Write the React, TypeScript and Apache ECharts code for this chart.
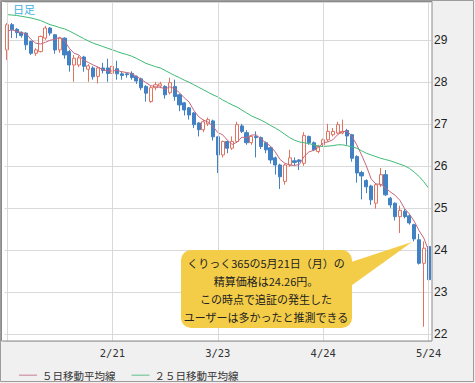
import React, { useEffect, useRef } from "react";
import * as echarts from "echarts";

// Trading days (category axis)
const dates = [
  "1/20",
  "1/23", "1/24", "1/25", "1/26", "1/27",
  "1/30", "1/31", "2/1", "2/2", "2/3",
  "2/6", "2/7", "2/8", "2/9", "2/10",
  "2/13", "2/14", "2/15", "2/16", "2/17",
  "2/20", "2/21", "2/22", "2/23", "2/24",
  "2/27", "2/28", "2/29", "3/1", "3/2",
  "3/5", "3/6", "3/7", "3/8", "3/9",
  "3/12", "3/13", "3/14", "3/15", "3/16",
  "3/19", "3/21", "3/22", "3/23",
  "3/26", "3/27", "3/28", "3/29", "3/30",
  "4/2", "4/3", "4/4", "4/5", "4/6",
  "4/9", "4/10", "4/11", "4/12", "4/13",
  "4/16", "4/17", "4/18", "4/19", "4/20",
  "4/23", "4/24", "4/25", "4/26", "4/27",
  "4/30", "5/1", "5/2", "5/3", "5/4",
  "5/7", "5/8", "5/9", "5/10", "5/11",
  "5/14", "5/15", "5/16", "5/17", "5/18",
  "5/21", "5/22", "5/23", "5/24",
];

const opens = [
  28.76, 29.36, 29.25, 29.18, 29.16, 28.96, 28.68, 28.72, 29.04, 29.28,
  29.12, 28.76, 29.04, 28.72, 28.4, 28.4, 28.59, 28.3, 28.33, 28.13,
  28.33, 28.33, 28.2, 28.31, 28.19, 28.19, 28.2, 28.13, 28.07, 27.89,
  27.53, 27.86, 27.9, 27.89, 27.74, 27.89, 27.69, 27.5, 27.38, 27.26,
  27.02, 26.86, 27.0, 27.07, 26.69, 26.26, 26.58, 26.42, 26.58, 26.95,
  26.79, 26.55, 26.7, 26.67, 26.55, 26.43, 26.19, 26.02, 25.63, 26.02,
  26.12, 26.14, 26.06, 26.7, 26.55, 26.34, 26.5, 26.62, 26.74, 26.78,
  26.78, 26.84, 26.74, 26.22, 25.84, 25.65, 25.52, 25.11, 25.55, 25.79,
  25.23, 25.11, 24.79, 24.92, 24.81, 24.6, 24.24, 23.68, 24.08,
];

const closes = [
  29.36, 29.24, 29.17, 29.1, 28.88, 28.68, 28.76, 29.08, 29.28, 29.16,
  28.76, 29.04, 28.64, 28.4, 28.56, 28.57, 28.37, 28.38, 28.12, 28.33,
  28.27, 28.2, 28.37, 28.19, 28.15, 28.17, 28.1, 28.02, 27.86, 27.73,
  27.86, 27.93, 27.95, 27.69, 27.98, 27.65, 27.45, 27.33, 27.21, 26.98,
  26.86, 27.05, 27.1, 26.69, 26.26, 26.58, 26.42, 26.58, 26.98, 26.82,
  26.55, 26.7, 26.67, 26.46, 26.38, 26.14, 26.02, 25.74, 26.02, 26.19,
  26.08, 26.1, 26.72, 26.55, 26.38, 26.46, 26.62, 26.82, 26.82, 26.98,
  26.82, 26.71, 26.18, 25.83, 25.76, 25.5, 25.19, 25.55, 25.79, 25.31,
  25.07, 24.79, 24.94, 24.79, 24.64, 24.26, 23.68, 24.04, 23.29,
];

const lows = [
  28.52, 29.04, 29.04, 29.05, 28.76, 28.64, 28.62, 28.7, 29.0, 29.1,
  28.67, 28.69, 28.55, 28.24, 28.0, 28.35, 28.24, 28.0, 28.05, 27.96,
  28.2, 28.0, 28.1, 28.05, 28.05, 28.1, 28.05, 27.95, 27.8, 27.53,
  27.5, 27.8, 27.85, 27.6, 27.7, 27.55, 27.3, 27.2, 27.1, 26.9,
  26.7, 26.8, 26.95, 26.6, 25.83, 26.2, 26.3, 26.38, 26.55, 26.78,
  26.5, 26.5, 26.2, 26.4, 26.3, 26.05, 25.79, 25.45, 25.55, 25.98,
  26.0, 25.9, 26.0, 26.5, 26.35, 26.3, 26.45, 26.58, 26.7, 26.75,
  26.75, 26.5, 26.1, 25.6, 25.2, 25.35, 25.07, 24.98, 25.5, 25.28,
  25.0, 24.7, 24.4, 24.75, 24.6, 24.2, 23.65, 22.17, 22.95,
];

const highs = [
  29.4, 29.4, 29.28, 29.2, 29.18, 28.98, 28.8, 29.1, 29.33, 29.3,
  29.14, 29.06, 29.06, 28.76, 28.64, 28.62, 28.62, 28.42, 28.37, 28.36,
  28.45, 28.55, 28.5, 28.5, 28.25, 28.22, 28.25, 28.15, 28.1, 27.92,
  27.9, 28.0, 28.0, 27.92, 28.1, 28.05, 27.72, 27.52, 27.4, 27.28,
  27.04, 27.1, 27.15, 27.1, 26.7, 26.6, 26.6, 26.7, 27.05, 27.0,
  26.85, 26.72, 26.82, 26.7, 26.58, 26.45, 26.22, 26.05, 26.05, 26.38,
  26.2, 26.16, 26.8, 26.72, 26.58, 26.5, 26.65, 27.0, 26.9, 27.05,
  27.1, 26.88, 26.76, 26.25, 25.88, 25.68, 25.55, 25.58, 25.95, 25.9,
  25.26, 25.13, 25.05, 24.97, 24.85, 24.62, 24.38, 24.2, 24.1,
];

const ma5 = [
  29.2, 29.24, 29.2, 29.17, 29.15, 29.01, 28.92, 28.9, 28.94, 28.99,
  29.01, 29.06, 28.98, 28.8, 28.68, 28.64, 28.51, 28.46, 28.4, 28.35,
  28.29, 28.26, 28.26, 28.27, 28.24, 28.22, 28.2, 28.13, 28.06, 27.98,
  27.91, 27.88, 27.87, 27.83, 27.88, 27.84, 27.74, 27.62, 27.52, 27.32,
  27.17, 27.09, 27.04, 26.94, 26.79, 26.74, 26.61, 26.51, 26.56, 26.68,
  26.67, 26.73, 26.74, 26.64, 26.55, 26.47, 26.33, 26.15, 26.06, 26.02,
  26.01, 26.03, 26.22, 26.33, 26.37, 26.44, 26.55, 26.57, 26.62, 26.74,
  26.81, 26.83, 26.7, 26.5, 26.26, 26.0, 25.69, 25.57, 25.56, 25.47,
  25.38, 25.3, 25.18, 24.98, 24.85, 24.68, 24.46, 24.28, 23.98,
];

const ma25 = [
  29.6, 29.59, 29.58, 29.56, 29.54, 29.52, 29.49, 29.46, 29.41, 29.36,
  29.33, 29.29, 29.26, 29.21, 29.15, 29.09, 29.03, 28.97, 28.92, 28.88,
  28.84, 28.8, 28.76, 28.72, 28.68, 28.65, 28.61, 28.56, 28.5, 28.44,
  28.4, 28.36, 28.33, 28.27, 28.21, 28.15, 28.1, 28.04, 27.99, 27.93,
  27.87, 27.81, 27.75, 27.69, 27.64, 27.57, 27.51, 27.45, 27.4, 27.33,
  27.26, 27.19, 27.14, 27.09, 27.03, 26.96, 26.9, 26.83, 26.75, 26.67,
  26.61, 26.57, 26.55, 26.53, 26.5, 26.47, 26.46, 26.47, 26.48, 26.5,
  26.5, 26.48, 26.45, 26.42, 26.36, 26.3, 26.26, 26.22, 26.18, 26.15,
  26.12, 26.08, 26.04, 26.0, 25.94, 25.85, 25.75, 25.62, 25.47,
];

const xTickLabels = ["2/21", "3/23", "4/24", "5/24"];
const gridDates = ["1/20", "2/21", "3/23", "4/24", "5/24"];

const ma5Name = "５日移動平均線";
const ma25Name = "２５日移動平均線";
const periodLabel = "日足";

const calloutLines = [
  "くりっく365の5月21日（月）の",
  "精算価格は24.26円。",
  "この時点で追証の発生した",
  "ユーザーは多かったと推測できる",
];

const JP = '"Noto Sans CJK JP", "Noto Sans", sans-serif';
const GRID = "#d9d9d9";
const CALLOUT = "#f4cd48";
const MA5_COLOR = "#c4687e";
const MA25_COLOR = "#3dba74";

export default function App() {
  const ref = useRef<HTMLDivElement>(null);

  useEffect(() => {
    if (!ref.current) return;
    const chart = echarts.init(ref.current, null, {
      renderer: "svg",
      width: 475,
      height: 383,
    });

    const candleData = dates.map((_, i) => [opens[i], closes[i], lows[i], highs[i]]);

    const option: any = {
      animation: false,
      backgroundColor: "#f0f0f0",
      grid: { left: 4.6, right: 44, top: 2, bottom: 42, show: false },
      xAxis: {
        type: "category",
        data: dates,
        boundaryGap: true,
        axisLine: { show: false },
        axisTick: { show: false },
        splitLine: { show: false },
        axisLabel: {
          interval: (_idx: number, value: string) => xTickLabels.includes(value),
          margin: 6,
          color: "#333",
          fontSize: 10.5,
          fontFamily: '"DejaVu Sans Mono", monospace',
        },
      },
      yAxis: {
        type: "value",
        position: "right",
        min: 21.83,
        max: 29.9,
        splitNumber: 8,
        scale: true,
        axisLine: { show: false },
        axisTick: { show: false },
        axisLabel: {
          margin: 3,
          color: "#222",
          fontSize: 12,
          fontFamily: '"Liberation Sans", Arial, sans-serif',
          showMinLabel: false,
          showMaxLabel: false,
          formatter: (v: number) => (Math.abs(v - Math.round(v)) < 1e-6 ? String(Math.round(v)) : ""),
        },
        splitLine: { show: true, lineStyle: { color: GRID, width: 1 } },
      },
      legend: {
        data: [
          { name: ma5Name, icon: "rect", itemStyle: { color: "#d6a3b2" } },
          { name: ma25Name, icon: "rect", itemStyle: { color: "#8fcfae" } },
        ],
        left: 14,
        top: 365,
        itemWidth: 18,
        itemHeight: 1.5,
        itemGap: 16,
        textStyle: { color: "#333", fontSize: 10.5, fontFamily: JP },
        selectedMode: false,
      },
      series: [
        {
          name: "grid-lines",
          type: "line",
          data: [],
          z: 1,
          silent: true,
          markLine: {
            silent: true,
            symbol: ["none", "none"],
            label: { show: false },
            lineStyle: { color: GRID, width: 1, type: "solid" },
            emphasis: { disabled: true },
            data: gridDates.map((d) => ({ xAxis: d })),
          },
        },
        {
          name: "price",
          type: "candlestick",
          data: candleData,
          z: 3,
          barWidth: 3.6,
          clip: false,
          itemStyle: {
            color: "#ffffff",
            color0: "#4282c4",
            borderColor: "#e2735f",
            borderColor0: "#4282c4",
            borderWidth: 1,
          },
        },
        {
          name: ma5Name,
          type: "line",
          data: ma5,
          z: 4,
          symbol: "none",
          showSymbol: false,
          color: MA5_COLOR,
          lineStyle: { color: MA5_COLOR, width: 1 },
        },
        {
          name: ma25Name,
          type: "line",
          data: ma25,
          z: 4,
          symbol: "none",
          showSymbol: false,
          color: MA25_COLOR,
          lineStyle: { color: MA25_COLOR, width: 1 },
        },
      ],
      graphic: [
        {
          type: "rect",
          z: -200,
          silent: true,
          shape: { x: 0.5, y: 0.5, width: 473, height: 381 },
          style: { fill: "#f0f0f0", stroke: "#9c9c9c", lineWidth: 1 },
        },
        {
          type: "rect",
          z: -100,
          silent: true,
          shape: { x: 1.5, y: 1.5, width: 430.5, height: 339.5 },
          style: { fill: "#ffffff" },
        },
        {
          type: "rect",
          z: 50,
          silent: true,
          shape: { x: 1.5, y: 1.5, width: 430.5, height: 339.5 },
          style: { fill: "none", stroke: "#8a8a8a", lineWidth: 1 },
        },
        {
          type: "text",
          z: 50,
          x: 13,
          y: 3,
          silent: true,
          style: {
            text: periodLabel,
            fill: "#3fb0df",
            fontSize: 11,
            fontFamily: JP,
            verticalAlign: "top",
            textVerticalAlign: "top",
          },
        },
        {
          type: "polygon",
          z: 60,
          silent: true,
          shape: { points: [[348, 263], [412, 242], [348, 288]] },
          style: { fill: CALLOUT },
        },
        {
          type: "rect",
          z: 60,
          silent: true,
          shape: { x: 181, y: 250, width: 171, height: 78, r: 10 },
          style: { fill: CALLOUT },
        },
        {
          type: "text",
          z: 61,
          x: 266,
          y: 290,
          silent: true,
          style: {
            text: calloutLines.join("\n"),
            fill: "#222",
            fontSize: 11,
            lineHeight: 18,
            fontFamily: JP,
            align: "center",
            textAlign: "center",
            verticalAlign: "middle",
            textVerticalAlign: "middle",
          },
        },
      ],
    };

    chart.setOption(option);
    return () => chart.dispose();
  }, []);

  return (
    <div
      ref={ref}
      style={{ position: "absolute", left: 0, top: 0, width: 475, height: 383 }}
    />
  );
}
